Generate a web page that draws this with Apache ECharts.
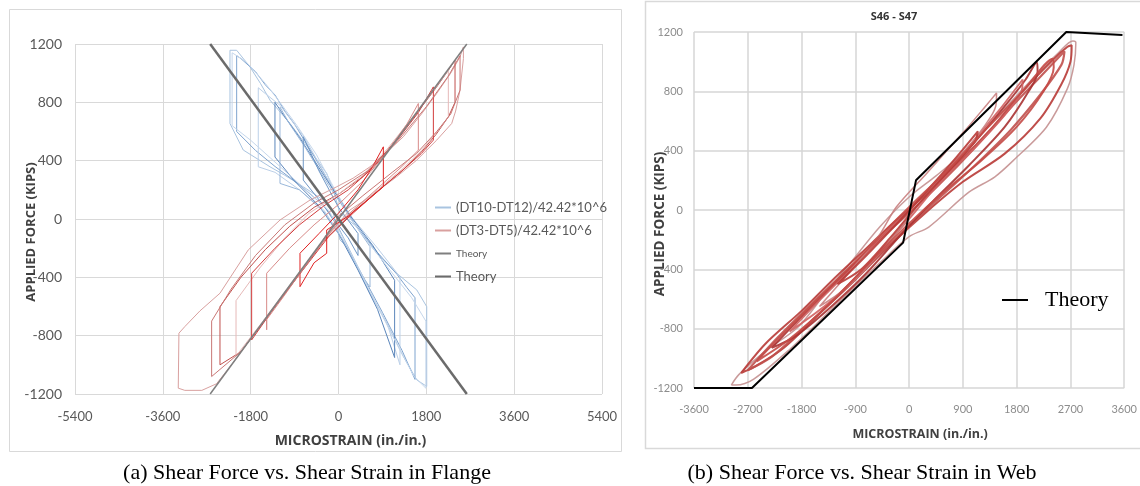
<!DOCTYPE html>
<html>
<head>
<meta charset="utf-8">
<script src="https://cdn.jsdelivr.net/npm/echarts@6/dist/echarts.min.js"></script>
<style>
  html, body { margin: 0; padding: 0; background: #fff; }
  #chart { width: 1140px; height: 486px; }
</style>
</head>
<body>
<div id="chart"></div>
<script>
// tick labels
const flangeStrainTicks = [-5400, -3600, -1800, 0, 1800, 3600, 5400];
const webStrainTicks = [-3600, -2700, -1800, -900, 0, 900, 1800, 2700, 3600];
const forceTicks = [-1200, -800, -400, 0, 400, 800, 1200];

const blueName = '(DT10-DT12)/42.42*10^6';
const redName = '(DT3-DT5)/42.42*10^6';

// (a) flange, blue gauge loops [microstrain, kips]
const flangeBlueLoops = [
  [[-2224,1157],[-2224,655],[-1952,473],[-1404,358],[-1100,300],[-722,221],[-312,130],[-107,39],[31,-144],[168,-190],[646,-509],[988,-714],[1329,-943],[1603,-1103],[1808,-1148],[1808,-601],[1603,-486],[1193,-372],[783,-235],[373,-53],[31,39],[-107,199],[-242,313],[-584,472],[-994,655],[-1404,815],[-1600,930],[-1814,1043],[-2087,1157],[-2224,1157]],
  [[-2087,1120],[-2087,600],[-1700,470],[-1300,360],[-800,235],[-300,90],[0,-60],[400,-330],[900,-640],[1300,-900],[1568,-1100],[1568,-540],[1400,-470],[1200,-380],[800,-230],[300,-20],[-100,200],[-500,430],[-900,650],[-1100,740],[-1300,850],[-1500,920],[-1700,1010],[-2000,1100],[-2087,1120]],
  [[-1644,900],[-1644,358],[-1300,320],[-800,200],[-300,60],[0,-90],[500,-410],[1000,-720],[1260,-1000],[1260,-397],[800,-200],[300,0],[-200,260],[-700,560],[-1200,780],[-1500,860],[-1644,900]],
  [[-1302,800],[-1302,425],[-900,260],[-400,90],[0,-100],[400,-350],[800,-620],[1150,-950],[1150,-420],[700,-180],[200,40],[-300,300],[-800,560],[-1100,700],[-1302,800]],
  [[-1199,767],[-1199,244],[-800,200],[-300,50],[100,-150],[500,-400],[646,-466],[646,-190],[300,-20],[-200,230],[-700,500],[-1000,650],[-1199,767]],
  [[-722,564],[-722,267],[-300,90],[200,-130],[400,-250],[400,-100],[0,80],[-400,330],[-722,564]],
  [[-2180,1140],[-2180,640],[-1800,540],[-1400,420],[-1000,300],[-600,180],[-200,60],[50,-100],[400,-330],[800,-600],[1200,-860],[1550,-1080],[1790,-1160],[1790,-700],[1500,-540],[1100,-370],[700,-200],[200,20],[-150,250],[-450,440],[-850,640],[-1200,800],[-1500,930],[-1900,1080],[-2180,1140]]
];

// (a) flange, red gauge loops
const flangeRedLoops = [
  [[-3284,-1160],[-3270,-783],[-3147,-737],[-2839,-630],[-2429,-509],[-1849,-212],[-1199,-7],[-584,130],[-37,221],[300,280],[646,358],[1000,460],[1329,564],[1700,720],[2013,861],[2300,1000],[2491,1112],[2559,1180],[2593,1192],[2560,1100],[2491,884],[2400,740],[2320,655],[2013,541],[1603,404],[1193,290],[646,153],[236,62],[-37,-40],[-500,-230],[-1000,-456],[-1600,-730],[-2163,-987],[-2500,-1130],[-2800,-1175],[-3150,-1175],[-3284,-1160]],
  [[-2429,-1000],[-2429,-601],[-2000,-400],[-1500,-210],[-1000,-50],[-500,80],[0,170],[500,290],[1000,470],[1500,680],[2000,900],[2251,1020],[2388,1089],[2388,800],[2251,700],[2000,580],[1700,460],[1300,330],[800,190],[300,50],[-300,-150],[-900,-420],[-1500,-690],[-2000,-910],[-2429,-1000]],
  [[-2100,-940],[-2100,-560],[-1600,-330],[-1100,-130],[-600,40],[0,170],[500,300],[1000,480],[1500,690],[1944,880],[2251,1020],[2251,700],[2000,590],[1700,470],[1300,340],[800,200],[300,60],[-300,-140],[-900,-410],[-1500,-680],[-2100,-940]],
  [[-1780,-829],[-1780,-372],[-1300,-200],[-800,-40],[-300,90],[200,200],[700,350],[1200,540],[1636,730],[1944,906],[1944,541],[1700,450],[1300,330],[800,190],[300,40],[-200,-120],[-800,-380],[-1300,-600],[-1780,-829]],
  [[-1472,-760],[-1472,-372],[-1000,-200],[-500,-40],[0,100],[500,260],[1000,460],[1400,650],[1636,792],[1636,472],[1300,360],[900,240],[400,90],[-100,-60],[-700,-330],[-1100,-520],[-1472,-690],[-1472,-760]],
  [[-789,-464],[-789,-235],[-400,-100],[0,40],[400,200],[700,360],[919,495],[919,221],[600,130],[200,20],[-242,-75],[-242,-235],[-500,-300],[-789,-464]],
  [[-2600,-1080],[-2600,-700],[-2200,-480],[-1700,-250],[-1100,-40],[-500,110],[0,200],[600,330],[1200,530],[1800,770],[2251,980],[2491,1120],[2491,884],[2300,720],[2013,600],[1600,450],[1100,320],[500,160],[0,20],[-600,-290],[-1300,-600],[-2000,-910],[-2600,-1080]]
];

const flangeTheoryUp = [[-2630,-1200],[2630,1200]];
const flangeTheoryDown = [[-2630,1200],[2630,-1200]];

// (b) web loops
const webLoops = [
  [[-2975,-1180],[-2850,-1110],[-2400,-950],[-1858,-789],[-1400,-560],[-1036,-384],[-493,-115],[0,88],[450,230],[1000,420],[1500,640],[2100,900],[2500,1060],[2740,1140],[2790,1130],[2760,980],[2650,820],[2300,560],[1760,340],[1430,222],[1000,120],[329,-115],[0,-180],[-500,-360],[-1300,-670],[-2000,-940],[-2600,-1140],[-2900,-1180],[-2975,-1180]],
  [[-2811,-1099],[-2400,-900],[-1800,-680],[-1300,-480],[-800,-290],[-300,-100],[200,80],[800,310],[1400,560],[1900,800],[2400,1010],[2650,1100],[2720,1110],[2700,1000],[2550,850],[2200,620],[1600,380],[900,190],[300,-10],[-300,-230],[-900,-470],[-1500,-700],[-2100,-930],[-2600,-1060],[-2811,-1099]],
  [[-2700,-1080],[-2200,-860],[-1600,-620],[-1000,-390],[-500,-200],[0,-20],[500,170],[1100,420],[1700,690],[2200,900],[2600,1070],[2550,980],[2200,780],[1700,540],[1100,300],[500,80],[0,-110],[-600,-340],[-1200,-580],[-1800,-810],[-2300,-990],[-2700,-1080]],
  [[-2300,-930],[-1900,-760],[-1400,-560],[-900,-360],[-400,-160],[100,40],[600,240],[1100,460],[1600,700],[1950,880],[2137,998],[2150,930],[2000,800],[1600,560],[1000,300],[400,60],[-100,-150],[-700,-420],[-1300,-650],[-1900,-850],[-2300,-930]],
  [[-2000,-820],[-1500,-610],[-1000,-410],[-500,-200],[0,0],[500,210],[1000,430],[1500,670],[1900,880],[1880,800],[1600,640],[1100,420],[500,180],[0,-60],[-600,-330],[-1300,-610],[-2000,-820]],
  [[-1500,-650],[-1000,-420],[-500,-170],[-214,20],[300,250],[900,520],[1300,710],[1463,789],[1450,700],[1250,560],[800,330],[300,110],[-100,-100],[-600,-340],[-1100,-540],[-1500,-650]],
  [[-1200,-500],[-700,-300],[-200,-90],[300,130],[800,360],[1150,530],[1100,460],[700,280],[200,60],[-300,-180],[-800,-400],[-1200,-500]],
  [[-2550,-1020],[-2100,-830],[-1500,-590],[-900,-350],[-400,-140],[100,60],[700,290],[1300,550],[1900,800],[2400,1020],[2420,960],[2250,800],[1800,560],[1200,330],[600,130],[0,-90],[-600,-330],[-1300,-620],[-2000,-870],[-2550,-1020]]
];

const webTheory = [[-3600,-1200],[-2630,-1200],[-100,-220],[115,200],[2630,1200],[3570,1180]];

const blueColors = ['#a9c4e0', '#7fa4cf', '#bcd0e8', '#5b86bb', '#9ab8da', '#6f97c6', '#c5d7ec'];
const redColors = ['#d9a09f', '#c0504d', '#e6b9b8', '#d23c3c', '#d88a88', '#e02020', '#c97775'];
const webColors = ['#c49090', '#b83a36', '#c0504d', '#a83232', '#d06060', '#c98080', '#b83a36', '#c44a46'];
const webWidths = [1.5, 2, 2.2, 2, 1.8, 1.5, 2, 2];

const chart = echarts.init(document.getElementById('chart'));

const gridLine = { lineStyle: { color: '#d9d9d9', width: 1 } };
const plain = v => String(v);
const series = [];

flangeBlueLoops.forEach((d, i) => {
  series.push({
    name: blueName, type: 'line', xAxisIndex: 0, yAxisIndex: 0, data: d,
    symbol: 'none', itemStyle: { color: blueColors[i] },
    lineStyle: { color: blueColors[i], width: 1 }
  });
});
flangeRedLoops.forEach((d, i) => {
  series.push({
    name: redName, type: 'line', xAxisIndex: 0, yAxisIndex: 0, data: d,
    symbol: 'none', itemStyle: { color: redColors[i] },
    lineStyle: { color: redColors[i], width: 1 }
  });
});
series.push({
  name: 'Theory', type: 'line', xAxisIndex: 0, yAxisIndex: 0, data: flangeTheoryUp,
  symbol: 'none', itemStyle: { color: '#7f7f7f' }, lineStyle: { color: '#7f7f7f', width: 1.5 }
});
series.push({
  name: 'Theory (thick)', type: 'line', xAxisIndex: 0, yAxisIndex: 0, data: flangeTheoryDown,
  symbol: 'none', itemStyle: { color: '#6b6b6b' }, lineStyle: { color: '#6b6b6b', width: 2.5 }
});
webLoops.forEach((d, i) => {
  series.push({
    name: 'S46-S47', type: 'line', xAxisIndex: 1, yAxisIndex: 1, data: d,
    symbol: 'none', smooth: 0.3, itemStyle: { color: webColors[i] },
    lineStyle: { color: webColors[i], width: webWidths[i], opacity: 0.9 }
  });
});
series.push({
  name: 'Theory (b)', type: 'line', xAxisIndex: 1, yAxisIndex: 1, data: webTheory,
  symbol: 'none', clip: false, itemStyle: { color: '#000' }, lineStyle: { color: '#000', width: 2 }
});

const option = {
  animation: false,
  backgroundColor: '#fff',
  grid: [
    { left: 75, right: 538, top: 44, height: 350 },
    { left: 694, right: 8, top: 32, height: 356 }
  ],
  xAxis: [
    {
      type: 'value', gridIndex: 0,
      min: flangeStrainTicks[0], max: flangeStrainTicks[flangeStrainTicks.length - 1],
      interval: flangeStrainTicks[1] - flangeStrainTicks[0],
      name: 'MICROSTRAIN (in./in.)', nameLocation: 'middle', nameGap: 40, nameMoveOverlap: false,
      nameTextStyle: { fontFamily: 'Open Sans', fontWeight: 'bold', fontSize: 14, color: '#404040', padding: [0, 0, 0, 24] },
      axisLine: { show: false }, axisTick: { show: false },
      splitLine: gridLine,
      axisLabel: { margin: 16, fontFamily: 'Lato', fontSize: 13, color: '#595959', formatter: plain }
    },
    {
      type: 'value', gridIndex: 1,
      min: webStrainTicks[0], max: webStrainTicks[webStrainTicks.length - 1],
      interval: webStrainTicks[1] - webStrainTicks[0],
      name: 'MICROSTRAIN (in./in.)', nameLocation: 'middle', nameGap: 40, nameMoveOverlap: false,
      nameTextStyle: { fontFamily: 'Open Sans', fontWeight: 'bold', fontSize: 12.5, color: '#404040', padding: [0, 0, 0, 22] },
      axisLine: { show: false }, axisTick: { show: false },
      splitLine: { lineStyle: { color: '#d6d6d6', width: 1.5 } },
      axisLabel: { margin: 16, fontFamily: 'Lato', fontSize: 11, color: '#8c8c8c', formatter: plain }
    }
  ],
  yAxis: [
    {
      type: 'value', gridIndex: 0,
      min: forceTicks[0], max: forceTicks[forceTicks.length - 1],
      interval: forceTicks[1] - forceTicks[0],
      axisLine: { show: false }, axisTick: { show: false },
      splitLine: gridLine,
      axisLabel: { margin: 13, fontFamily: 'Lato', fontSize: 14, color: '#595959', formatter: plain }
    },
    {
      type: 'value', gridIndex: 1,
      min: forceTicks[0], max: forceTicks[forceTicks.length - 1],
      interval: forceTicks[1] - forceTicks[0],
      axisLine: { show: false }, axisTick: { show: false },
      splitLine: { lineStyle: { color: '#d6d6d6', width: 1.5 } },
      axisLabel: { margin: 11, fontFamily: 'Lato', fontSize: 11, color: '#8c8c8c', formatter: plain }
    }
  ],
  legend: [
    {
      orient: 'vertical', left: 435, top: 200, padding: 0, itemGap: 8,
      itemWidth: 16, itemHeight: 2, selectedMode: false, icon: 'rect',
      data: [blueName, redName, 'Theory', 'Theory (thick)'],
      formatter: name => name === 'Theory' ? '{s|Theory}' : (name === 'Theory (thick)' ? '{m|Theory}' : name),
      textStyle: {
        fontFamily: 'Lato', fontSize: 13, color: '#595959', lineHeight: 15,
        rich: {
          s: { fontFamily: 'Lato', fontSize: 10, color: '#595959', lineHeight: 15 },
          m: { fontFamily: 'Lato', fontSize: 13, color: '#595959', lineHeight: 15 }
        }
      }
    },
    {
      left: 1002, top: 289, padding: 0, itemWidth: 26, itemHeight: 2, selectedMode: false, icon: 'rect',
      data: ['Theory (b)'],
      formatter: () => '{t|Theory}',
      textStyle: {
        rich: { t: { fontFamily: 'Liberation Serif', fontSize: 22, color: '#000', padding: [0, 0, 0, 12] } }
      }
    }
  ],
  graphic: [
    { type: 'rect', shape: { x: 9.5, y: 9.5, width: 612, height: 442 }, style: { fill: 'none', stroke: '#d9d9d9', lineWidth: 1 }, z: -1 },
    { type: 'rect', shape: { x: 645.5, y: 1.5, width: 500, height: 447 }, style: { fill: 'none', stroke: '#d9d9d9', lineWidth: 1.5 }, z: -1 },
    { type: 'text', x: 31, y: 232, rotation: Math.PI / 2, style: { text: 'APPLIED FORCE (KIPS)', textAlign: 'center', textVerticalAlign: 'middle', font: 'bold 13px "Open Sans"', fill: '#404040' } },
    { type: 'text', x: 660, y: 224, rotation: Math.PI / 2, style: { text: 'APPLIED FORCE (KIPS)', textAlign: 'center', textVerticalAlign: 'middle', font: 'bold 13.5px "Open Sans"', fill: '#404040' } },
    { type: 'text', x: 894, y: 17, style: { text: 'S46 - S47', textAlign: 'center', textVerticalAlign: 'middle', font: 'bold 11px "Open Sans"', fill: '#333' } },
    { type: 'text', x: 307, y: 473, style: { text: '(a) Shear Force vs. Shear Strain in Flange', textAlign: 'center', textVerticalAlign: 'middle', font: '22px "Liberation Serif"', fill: '#000' } },
    { type: 'text', x: 862, y: 473, style: { text: '(b) Shear Force vs. Shear Strain in Web', textAlign: 'center', textVerticalAlign: 'middle', font: '22px "Liberation Serif"', fill: '#000' } }
  ],
  series: series
};

chart.setOption(option);
</script>
</body>
</html>
